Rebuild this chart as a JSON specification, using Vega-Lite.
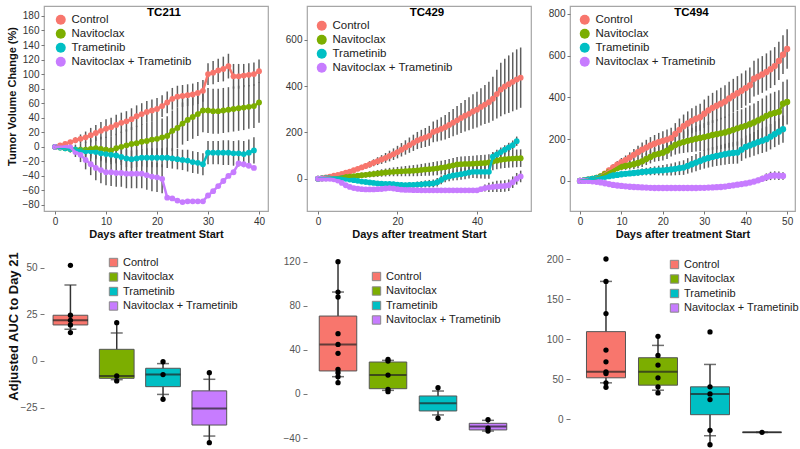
{
"$schema":"https://vega.github.io/schema/vega-lite/v6.json",
"padding":{"left":5,"top":5,"right":0,"bottom":0},
"background":"white",
"config":{
 "font":"Liberation Sans",
 "view":{"stroke":"#a6a6a6","strokeWidth":1.2},
 "axis":{"grid":false,"domain":false,"tickColor":"#777","tickSize":3,"labelColor":"#333","labelFontSize":10,"titleFontSize":11,"titleFontWeight":"bold","titleColor":"#111","labelPadding":2},
 "legend":{"labelFontSize":11.5,"labelColor":"#222","padding":0,"rowPadding":1,"labelOffset":5},
 "title":{"fontSize":11.5,"fontWeight":"bold","color":"#000"}
},
"datasets":{
"t1":[
{"d":0,"g":"C","v":0,"e":0},{"d":1,"g":"C","v":2,"e":1},{"d":2,"g":"C","v":4,"e":2},{"d":3,"g":"C","v":6.5,"e":3},{"d":4,"g":"C","v":9,"e":4},{"d":5,"g":"C","v":11,"e":6},{"d":6,"g":"C","v":13,"e":8},{"d":7,"g":"C","v":16,"e":10},{"d":8,"g":"C","v":19,"e":11},{"d":9,"g":"C","v":22,"e":12},{"d":10,"g":"C","v":25,"e":13},{"d":11,"g":"C","v":27,"e":13},{"d":12,"g":"C","v":30,"e":14},{"d":13,"g":"C","v":33,"e":14},{"d":14,"g":"C","v":35,"e":14},{"d":15,"g":"C","v":38,"e":15},{"d":16,"g":"C","v":42,"e":15},{"d":17,"g":"C","v":45,"e":15},{"d":18,"g":"C","v":48,"e":15},{"d":19,"g":"C","v":50,"e":15},{"d":20,"g":"C","v":52,"e":15},{"d":21,"g":"C","v":56,"e":15},{"d":22,"g":"C","v":61,"e":15},{"d":23,"g":"C","v":66,"e":15},{"d":24,"g":"C","v":69,"e":15},{"d":25,"g":"C","v":70,"e":15},{"d":26,"g":"C","v":71,"e":15},{"d":27,"g":"C","v":72,"e":15},{"d":28,"g":"C","v":74,"e":15},{"d":29,"g":"C","v":77,"e":15},{"d":30,"g":"C","v":100,"e":15},{"d":31,"g":"C","v":102,"e":16},{"d":32,"g":"C","v":105,"e":16},{"d":33,"g":"C","v":107,"e":17},{"d":34,"g":"C","v":111,"e":17},{"d":35,"g":"C","v":97,"e":17},{"d":36,"g":"C","v":97,"e":17},{"d":37,"g":"C","v":98,"e":16},{"d":38,"g":"C","v":99,"e":16},{"d":39,"g":"C","v":100,"e":16},{"d":40,"g":"C","v":104,"e":16},
{"d":0,"g":"N","v":0,"e":0},{"d":1,"g":"N","v":-1,"e":2},{"d":2,"g":"N","v":-2,"e":3},{"d":3,"g":"N","v":-3,"e":5},{"d":4,"g":"N","v":-4,"e":7},{"d":5,"g":"N","v":-4,"e":9},{"d":6,"g":"N","v":-4,"e":11},{"d":7,"g":"N","v":-3,"e":13},{"d":8,"g":"N","v":-2,"e":15},{"d":9,"g":"N","v":-3,"e":17},{"d":10,"g":"N","v":-4,"e":18},{"d":11,"g":"N","v":-5,"e":19},{"d":12,"g":"N","v":-2,"e":20},{"d":13,"g":"N","v":0,"e":21},{"d":14,"g":"N","v":2,"e":22},{"d":15,"g":"N","v":4,"e":23},{"d":16,"g":"N","v":5,"e":24},{"d":17,"g":"N","v":7,"e":24},{"d":18,"g":"N","v":8,"e":25},{"d":19,"g":"N","v":10,"e":25},{"d":20,"g":"N","v":11,"e":26},{"d":21,"g":"N","v":13,"e":26},{"d":22,"g":"N","v":15,"e":27},{"d":23,"g":"N","v":22,"e":28},{"d":24,"g":"N","v":26,"e":28},{"d":25,"g":"N","v":32,"e":29},{"d":26,"g":"N","v":37,"e":29},{"d":27,"g":"N","v":41,"e":30},{"d":28,"g":"N","v":45,"e":30},{"d":29,"g":"N","v":50,"e":30},{"d":30,"g":"N","v":50,"e":31},{"d":31,"g":"N","v":49,"e":31},{"d":32,"g":"N","v":49,"e":31},{"d":33,"g":"N","v":50,"e":31},{"d":34,"g":"N","v":51,"e":31},{"d":35,"g":"N","v":52,"e":31},{"d":36,"g":"N","v":53,"e":31},{"d":37,"g":"N","v":54,"e":31},{"d":38,"g":"N","v":55,"e":30},{"d":39,"g":"N","v":56,"e":30},{"d":40,"g":"N","v":61,"e":28},
{"d":0,"g":"T","v":0,"e":0},{"d":1,"g":"T","v":-1,"e":1},{"d":2,"g":"T","v":-2,"e":2},{"d":3,"g":"T","v":-3,"e":3},{"d":4,"g":"T","v":-4,"e":4},{"d":5,"g":"T","v":-5,"e":5},{"d":6,"g":"T","v":-6,"e":6},{"d":7,"g":"T","v":-6,"e":7},{"d":8,"g":"T","v":-7,"e":8},{"d":9,"g":"T","v":-9,"e":9},{"d":10,"g":"T","v":-10,"e":10},{"d":11,"g":"T","v":-11,"e":10},{"d":12,"g":"T","v":-12,"e":11},{"d":13,"g":"T","v":-14,"e":11},{"d":14,"g":"T","v":-16,"e":12},{"d":15,"g":"T","v":-17,"e":12},{"d":16,"g":"T","v":-16,"e":12},{"d":17,"g":"T","v":-15,"e":12},{"d":18,"g":"T","v":-15,"e":13},{"d":19,"g":"T","v":-15,"e":13},{"d":20,"g":"T","v":-15,"e":13},{"d":21,"g":"T","v":-15,"e":13},{"d":22,"g":"T","v":-15,"e":14},{"d":23,"g":"T","v":-16,"e":14},{"d":24,"g":"T","v":-17,"e":14},{"d":25,"g":"T","v":-18,"e":14},{"d":26,"g":"T","v":-19,"e":15},{"d":27,"g":"T","v":-21,"e":15},{"d":28,"g":"T","v":-22,"e":15},{"d":29,"g":"T","v":-24,"e":15},{"d":30,"g":"T","v":-8,"e":16},{"d":31,"g":"T","v":-8,"e":16},{"d":32,"g":"T","v":-8,"e":16},{"d":33,"g":"T","v":-8,"e":17},{"d":34,"g":"T","v":-8,"e":17},{"d":35,"g":"T","v":-9,"e":17},{"d":36,"g":"T","v":-9,"e":18},{"d":37,"g":"T","v":-10,"e":18},{"d":38,"g":"T","v":-8,"e":18},{"d":39,"g":"T","v":-5,"e":18},
{"d":0,"g":"NT","v":0,"e":0},{"d":1,"g":"NT","v":0,"e":1},{"d":2,"g":"NT","v":0,"e":2},{"d":3,"g":"NT","v":-1,"e":4},{"d":4,"g":"NT","v":-7,"e":7},{"d":5,"g":"NT","v":-11,"e":10},{"d":6,"g":"NT","v":-18,"e":13},{"d":7,"g":"NT","v":-24,"e":15},{"d":8,"g":"NT","v":-29,"e":17},{"d":9,"g":"NT","v":-32,"e":18},{"d":10,"g":"NT","v":-35,"e":18},{"d":11,"g":"NT","v":-35,"e":19},{"d":12,"g":"NT","v":-36,"e":19},{"d":13,"g":"NT","v":-36,"e":19},{"d":14,"g":"NT","v":-37,"e":20},{"d":15,"g":"NT","v":-37,"e":20},{"d":16,"g":"NT","v":-37,"e":20},{"d":17,"g":"NT","v":-37,"e":20},{"d":18,"g":"NT","v":-39,"e":20},{"d":19,"g":"NT","v":-41,"e":20},{"d":20,"g":"NT","v":-42,"e":20},{"d":21,"g":"NT","v":-44,"e":20},{"d":22,"g":"NT","v":-70,"e":1},{"d":23,"g":"NT","v":-71,"e":1},{"d":24,"g":"NT","v":-74,"e":1},{"d":25,"g":"NT","v":-76,"e":1},{"d":26,"g":"NT","v":-75,"e":1},{"d":27,"g":"NT","v":-75,"e":1},{"d":28,"g":"NT","v":-75,"e":1},{"d":29,"g":"NT","v":-75,"e":1},{"d":30,"g":"NT","v":-67,"e":1},{"d":31,"g":"NT","v":-61,"e":1},{"d":32,"g":"NT","v":-54,"e":1},{"d":33,"g":"NT","v":-47,"e":1},{"d":34,"g":"NT","v":-40,"e":1},{"d":35,"g":"NT","v":-35,"e":1},{"d":36,"g":"NT","v":-23,"e":1},{"d":37,"g":"NT","v":-24,"e":1},{"d":38,"g":"NT","v":-26,"e":1},{"d":39,"g":"NT","v":-29,"e":1}
],
"t2":[
{"d":0,"g":"C","v":0,"e":0},{"d":1,"g":"C","v":3,"e":1},{"d":2,"g":"C","v":6,"e":2},{"d":3,"g":"C","v":9,"e":3},{"d":4,"g":"C","v":13,"e":4},{"d":5,"g":"C","v":17,"e":5},{"d":6,"g":"C","v":21,"e":6},{"d":7,"g":"C","v":26,"e":7},{"d":8,"g":"C","v":31,"e":8},{"d":9,"g":"C","v":37,"e":9},{"d":10,"g":"C","v":43,"e":10},{"d":11,"g":"C","v":49,"e":11},{"d":12,"g":"C","v":55,"e":12},{"d":13,"g":"C","v":62,"e":14},{"d":14,"g":"C","v":69,"e":15},{"d":15,"g":"C","v":76,"e":17},{"d":16,"g":"C","v":83,"e":19},{"d":17,"g":"C","v":90,"e":21},{"d":18,"g":"C","v":98,"e":23},{"d":19,"g":"C","v":106,"e":25},{"d":20,"g":"C","v":115,"e":27},{"d":21,"g":"C","v":125,"e":29},{"d":22,"g":"C","v":135,"e":31},{"d":23,"g":"C","v":145,"e":33},{"d":24,"g":"C","v":155,"e":35},{"d":25,"g":"C","v":165,"e":37},{"d":26,"g":"C","v":172,"e":39},{"d":27,"g":"C","v":178,"e":41},{"d":28,"g":"C","v":185,"e":43},{"d":29,"g":"C","v":202,"e":45},{"d":30,"g":"C","v":208,"e":47},{"d":31,"g":"C","v":215,"e":50},{"d":32,"g":"C","v":222,"e":53},{"d":33,"g":"C","v":232,"e":56},{"d":34,"g":"C","v":242,"e":59},{"d":35,"g":"C","v":252,"e":62},{"d":36,"g":"C","v":262,"e":65},{"d":37,"g":"C","v":272,"e":68},{"d":38,"g":"C","v":280,"e":71},{"d":39,"g":"C","v":290,"e":74},{"d":40,"g":"C","v":298,"e":77},{"d":41,"g":"C","v":310,"e":80},{"d":42,"g":"C","v":320,"e":84},{"d":43,"g":"C","v":330,"e":88},{"d":44,"g":"C","v":345,"e":95},{"d":45,"g":"C","v":365,"e":105},{"d":46,"g":"C","v":385,"e":115},{"d":47,"g":"C","v":398,"e":120},{"d":48,"g":"C","v":408,"e":124},{"d":49,"g":"C","v":418,"e":127},{"d":50,"g":"C","v":428,"e":130},{"d":51,"g":"C","v":436,"e":130},
{"d":0,"g":"N","v":0,"e":0},{"d":1,"g":"N","v":1,"e":1},{"d":2,"g":"N","v":2,"e":2},{"d":3,"g":"N","v":3,"e":3},{"d":4,"g":"N","v":4,"e":4},{"d":5,"g":"N","v":5,"e":5},{"d":6,"g":"N","v":6,"e":6},{"d":7,"g":"N","v":8,"e":7},{"d":8,"g":"N","v":9,"e":8},{"d":9,"g":"N","v":11,"e":9},{"d":10,"g":"N","v":13,"e":10},{"d":11,"g":"N","v":15,"e":11},{"d":12,"g":"N","v":17,"e":12},{"d":13,"g":"N","v":19,"e":13},{"d":14,"g":"N","v":21,"e":14},{"d":15,"g":"N","v":23,"e":15},{"d":16,"g":"N","v":25,"e":16},{"d":17,"g":"N","v":27,"e":17},{"d":18,"g":"N","v":29,"e":18},{"d":19,"g":"N","v":30,"e":19},{"d":20,"g":"N","v":31,"e":20},{"d":21,"g":"N","v":32,"e":21},{"d":22,"g":"N","v":33,"e":22},{"d":23,"g":"N","v":34,"e":23},{"d":24,"g":"N","v":35,"e":24},{"d":25,"g":"N","v":36,"e":25},{"d":26,"g":"N","v":38,"e":26},{"d":27,"g":"N","v":40,"e":27},{"d":28,"g":"N","v":41,"e":28},{"d":29,"g":"N","v":43,"e":29},{"d":30,"g":"N","v":45,"e":30},{"d":31,"g":"N","v":48,"e":30},{"d":32,"g":"N","v":50,"e":31},{"d":33,"g":"N","v":54,"e":31},{"d":34,"g":"N","v":58,"e":32},{"d":35,"g":"N","v":62,"e":32},{"d":36,"g":"N","v":63,"e":33},{"d":37,"g":"N","v":64,"e":33},{"d":38,"g":"N","v":64,"e":34},{"d":39,"g":"N","v":65,"e":34},{"d":40,"g":"N","v":66,"e":35},{"d":41,"g":"N","v":67,"e":35},{"d":42,"g":"N","v":68,"e":36},{"d":43,"g":"N","v":70,"e":36},{"d":44,"g":"N","v":74,"e":37},{"d":45,"g":"N","v":78,"e":37},{"d":46,"g":"N","v":82,"e":38},{"d":47,"g":"N","v":84,"e":38},{"d":48,"g":"N","v":86,"e":38},{"d":49,"g":"N","v":87,"e":38},{"d":50,"g":"N","v":88,"e":38},{"d":51,"g":"N","v":89,"e":38},
{"d":0,"g":"T","v":0,"e":0},{"d":1,"g":"T","v":2,"e":1},{"d":2,"g":"T","v":3,"e":1},{"d":3,"g":"T","v":4,"e":2},{"d":4,"g":"T","v":5,"e":2},{"d":5,"g":"T","v":4,"e":3},{"d":6,"g":"T","v":2,"e":3},{"d":7,"g":"T","v":0,"e":4},{"d":8,"g":"T","v":-3,"e":4},{"d":9,"g":"T","v":-6,"e":5},{"d":10,"g":"T","v":-9,"e":5},{"d":11,"g":"T","v":-12,"e":6},{"d":12,"g":"T","v":-14,"e":6},{"d":13,"g":"T","v":-16,"e":7},{"d":14,"g":"T","v":-18,"e":7},{"d":15,"g":"T","v":-20,"e":8},{"d":16,"g":"T","v":-21,"e":8},{"d":17,"g":"T","v":-22,"e":9},{"d":18,"g":"T","v":-22,"e":9},{"d":19,"g":"T","v":-23,"e":10},{"d":20,"g":"T","v":-25,"e":10},{"d":21,"g":"T","v":-27,"e":11},{"d":22,"g":"T","v":-28,"e":11},{"d":23,"g":"T","v":-27,"e":12},{"d":24,"g":"T","v":-26,"e":12},{"d":25,"g":"T","v":-25,"e":13},{"d":26,"g":"T","v":-24,"e":14},{"d":27,"g":"T","v":-22,"e":15},{"d":28,"g":"T","v":-21,"e":16},{"d":29,"g":"T","v":-20,"e":17},{"d":30,"g":"T","v":-15,"e":18},{"d":31,"g":"T","v":-5,"e":19},{"d":32,"g":"T","v":5,"e":20},{"d":33,"g":"T","v":10,"e":21},{"d":34,"g":"T","v":14,"e":22},{"d":35,"g":"T","v":17,"e":23},{"d":36,"g":"T","v":20,"e":24},{"d":37,"g":"T","v":23,"e":25},{"d":38,"g":"T","v":27,"e":26},{"d":39,"g":"T","v":30,"e":27},{"d":40,"g":"T","v":30,"e":28},{"d":41,"g":"T","v":30,"e":29},{"d":42,"g":"T","v":30,"e":30},{"d":43,"g":"T","v":30,"e":30},{"d":44,"g":"T","v":95,"e":20},{"d":45,"g":"T","v":105,"e":20},{"d":46,"g":"T","v":115,"e":20},{"d":47,"g":"T","v":125,"e":20},{"d":48,"g":"T","v":135,"e":20},{"d":49,"g":"T","v":145,"e":20},{"d":50,"g":"T","v":162,"e":20},
{"d":0,"g":"NT","v":0,"e":0},{"d":1,"g":"NT","v":0,"e":1},{"d":2,"g":"NT","v":0,"e":1},{"d":3,"g":"NT","v":0,"e":2},{"d":4,"g":"NT","v":-2,"e":2},{"d":5,"g":"NT","v":-8,"e":3},{"d":6,"g":"NT","v":-18,"e":3},{"d":7,"g":"NT","v":-28,"e":3},{"d":8,"g":"NT","v":-35,"e":3},{"d":9,"g":"NT","v":-40,"e":3},{"d":10,"g":"NT","v":-43,"e":3},{"d":11,"g":"NT","v":-45,"e":3},{"d":12,"g":"NT","v":-46,"e":3},{"d":13,"g":"NT","v":-46,"e":3},{"d":14,"g":"NT","v":-46,"e":3},{"d":15,"g":"NT","v":-45,"e":3},{"d":16,"g":"NT","v":-44,"e":3},{"d":17,"g":"NT","v":-42,"e":3},{"d":18,"g":"NT","v":-40,"e":3},{"d":19,"g":"NT","v":-42,"e":3},{"d":20,"g":"NT","v":-45,"e":3},{"d":21,"g":"NT","v":-47,"e":3},{"d":22,"g":"NT","v":-48,"e":3},{"d":23,"g":"NT","v":-48,"e":3},{"d":24,"g":"NT","v":-49,"e":3},{"d":25,"g":"NT","v":-49,"e":3},{"d":26,"g":"NT","v":-50,"e":3},{"d":27,"g":"NT","v":-50,"e":3},{"d":28,"g":"NT","v":-50,"e":3},{"d":29,"g":"NT","v":-50,"e":3},{"d":30,"g":"NT","v":-50,"e":3},{"d":31,"g":"NT","v":-50,"e":3},{"d":32,"g":"NT","v":-50,"e":3},{"d":33,"g":"NT","v":-50,"e":3},{"d":34,"g":"NT","v":-50,"e":3},{"d":35,"g":"NT","v":-50,"e":3},{"d":36,"g":"NT","v":-50,"e":3},{"d":37,"g":"NT","v":-50,"e":3},{"d":38,"g":"NT","v":-50,"e":3},{"d":39,"g":"NT","v":-50,"e":3},{"d":40,"g":"NT","v":-50,"e":3},{"d":41,"g":"NT","v":-45,"e":10},{"d":42,"g":"NT","v":-40,"e":15},{"d":43,"g":"NT","v":-37,"e":20},{"d":44,"g":"NT","v":-35,"e":22},{"d":45,"g":"NT","v":-33,"e":24},{"d":46,"g":"NT","v":-32,"e":25},{"d":47,"g":"NT","v":-31,"e":25},{"d":48,"g":"NT","v":-28,"e":25},{"d":49,"g":"NT","v":-15,"e":25},{"d":50,"g":"NT","v":0,"e":25},{"d":51,"g":"NT","v":10,"e":25}
],
"t3":[
{"d":0,"g":"C","v":0,"e":0},{"d":1,"g":"C","v":3,"e":2},{"d":2,"g":"C","v":6,"e":3},{"d":3,"g":"C","v":10,"e":5},{"d":4,"g":"C","v":15,"e":7},{"d":5,"g":"C","v":22,"e":9},{"d":6,"g":"C","v":35,"e":11},{"d":7,"g":"C","v":50,"e":13},{"d":8,"g":"C","v":65,"e":15},{"d":9,"g":"C","v":78,"e":17},{"d":10,"g":"C","v":90,"e":20},{"d":11,"g":"C","v":100,"e":22},{"d":12,"g":"C","v":112,"e":25},{"d":13,"g":"C","v":125,"e":28},{"d":14,"g":"C","v":138,"e":31},{"d":15,"g":"C","v":150,"e":34},{"d":16,"g":"C","v":160,"e":37},{"d":17,"g":"C","v":170,"e":40},{"d":18,"g":"C","v":178,"e":42},{"d":19,"g":"C","v":186,"e":44},{"d":20,"g":"C","v":192,"e":46},{"d":21,"g":"C","v":198,"e":48},{"d":22,"g":"C","v":205,"e":50},{"d":23,"g":"C","v":225,"e":52},{"d":24,"g":"C","v":245,"e":54},{"d":25,"g":"C","v":262,"e":56},{"d":26,"g":"C","v":275,"e":58},{"d":27,"g":"C","v":288,"e":60},{"d":28,"g":"C","v":298,"e":62},{"d":29,"g":"C","v":305,"e":65},{"d":30,"g":"C","v":322,"e":68},{"d":31,"g":"C","v":338,"e":70},{"d":32,"g":"C","v":350,"e":72},{"d":33,"g":"C","v":360,"e":74},{"d":34,"g":"C","v":370,"e":76},{"d":35,"g":"C","v":380,"e":78},{"d":36,"g":"C","v":395,"e":80},{"d":37,"g":"C","v":408,"e":81},{"d":38,"g":"C","v":420,"e":82},{"d":39,"g":"C","v":432,"e":83},{"d":40,"g":"C","v":445,"e":84},{"d":41,"g":"C","v":458,"e":85},{"d":42,"g":"C","v":490,"e":86},{"d":43,"g":"C","v":500,"e":87},{"d":44,"g":"C","v":510,"e":88},{"d":45,"g":"C","v":522,"e":89},{"d":46,"g":"C","v":535,"e":90},{"d":47,"g":"C","v":550,"e":91},{"d":48,"g":"C","v":575,"e":92},{"d":49,"g":"C","v":605,"e":93},{"d":50,"g":"C","v":632,"e":95},
{"d":0,"g":"N","v":0,"e":0},{"d":1,"g":"N","v":3,"e":2},{"d":2,"g":"N","v":6,"e":3},{"d":3,"g":"N","v":10,"e":4},{"d":4,"g":"N","v":14,"e":5},{"d":5,"g":"N","v":22,"e":7},{"d":6,"g":"N","v":32,"e":9},{"d":7,"g":"N","v":42,"e":11},{"d":8,"g":"N","v":52,"e":13},{"d":9,"g":"N","v":62,"e":15},{"d":10,"g":"N","v":68,"e":17},{"d":11,"g":"N","v":72,"e":19},{"d":12,"g":"N","v":76,"e":21},{"d":13,"g":"N","v":80,"e":23},{"d":14,"g":"N","v":86,"e":25},{"d":15,"g":"N","v":94,"e":27},{"d":16,"g":"N","v":105,"e":29},{"d":17,"g":"N","v":115,"e":31},{"d":18,"g":"N","v":125,"e":33},{"d":19,"g":"N","v":130,"e":35},{"d":20,"g":"N","v":135,"e":37},{"d":21,"g":"N","v":145,"e":40},{"d":22,"g":"N","v":160,"e":43},{"d":23,"g":"N","v":172,"e":46},{"d":24,"g":"N","v":180,"e":49},{"d":25,"g":"N","v":186,"e":52},{"d":26,"g":"N","v":192,"e":55},{"d":27,"g":"N","v":197,"e":58},{"d":28,"g":"N","v":202,"e":61},{"d":29,"g":"N","v":206,"e":64},{"d":30,"g":"N","v":210,"e":67},{"d":31,"g":"N","v":215,"e":69},{"d":32,"g":"N","v":220,"e":71},{"d":33,"g":"N","v":224,"e":73},{"d":34,"g":"N","v":228,"e":75},{"d":35,"g":"N","v":232,"e":77},{"d":36,"g":"N","v":238,"e":79},{"d":37,"g":"N","v":245,"e":81},{"d":38,"g":"N","v":252,"e":83},{"d":39,"g":"N","v":258,"e":85},{"d":40,"g":"N","v":264,"e":87},{"d":41,"g":"N","v":272,"e":89},{"d":42,"g":"N","v":280,"e":91},{"d":43,"g":"N","v":290,"e":93},{"d":44,"g":"N","v":300,"e":95},{"d":45,"g":"N","v":312,"e":97},{"d":46,"g":"N","v":320,"e":99},{"d":47,"g":"N","v":326,"e":101},{"d":48,"g":"N","v":331,"e":103},{"d":49,"g":"N","v":370,"e":105},{"d":50,"g":"N","v":378,"e":108},
{"d":0,"g":"T","v":0,"e":0},{"d":1,"g":"T","v":3,"e":1},{"d":2,"g":"T","v":6,"e":2},{"d":3,"g":"T","v":10,"e":3},{"d":4,"g":"T","v":13,"e":4},{"d":5,"g":"T","v":17,"e":5},{"d":6,"g":"T","v":20,"e":6},{"d":7,"g":"T","v":23,"e":7},{"d":8,"g":"T","v":26,"e":8},{"d":9,"g":"T","v":29,"e":9},{"d":10,"g":"T","v":32,"e":10},{"d":11,"g":"T","v":34,"e":11},{"d":12,"g":"T","v":36,"e":12},{"d":13,"g":"T","v":38,"e":14},{"d":14,"g":"T","v":40,"e":15},{"d":15,"g":"T","v":43,"e":17},{"d":16,"g":"T","v":45,"e":18},{"d":17,"g":"T","v":47,"e":20},{"d":18,"g":"T","v":49,"e":21},{"d":19,"g":"T","v":50,"e":23},{"d":20,"g":"T","v":51,"e":25},{"d":21,"g":"T","v":53,"e":27},{"d":22,"g":"T","v":55,"e":29},{"d":23,"g":"T","v":58,"e":31},{"d":24,"g":"T","v":61,"e":33},{"d":25,"g":"T","v":64,"e":35},{"d":26,"g":"T","v":72,"e":37},{"d":27,"g":"T","v":80,"e":39},{"d":28,"g":"T","v":88,"e":41},{"d":29,"g":"T","v":96,"e":43},{"d":30,"g":"T","v":104,"e":45},{"d":31,"g":"T","v":110,"e":46},{"d":32,"g":"T","v":115,"e":47},{"d":33,"g":"T","v":120,"e":48},{"d":34,"g":"T","v":124,"e":49},{"d":35,"g":"T","v":128,"e":50},{"d":36,"g":"T","v":132,"e":51},{"d":37,"g":"T","v":134,"e":52},{"d":38,"g":"T","v":136,"e":53},{"d":39,"g":"T","v":150,"e":54},{"d":40,"g":"T","v":163,"e":55},{"d":41,"g":"T","v":170,"e":56},{"d":42,"g":"T","v":178,"e":57},{"d":43,"g":"T","v":186,"e":58},{"d":44,"g":"T","v":193,"e":59},{"d":45,"g":"T","v":200,"e":60},{"d":46,"g":"T","v":212,"e":61},{"d":47,"g":"T","v":224,"e":62},{"d":48,"g":"T","v":236,"e":63},{"d":49,"g":"T","v":248,"e":65},
{"d":0,"g":"NT","v":0,"e":0},{"d":1,"g":"NT","v":0,"e":1},{"d":2,"g":"NT","v":0,"e":1},{"d":3,"g":"NT","v":-2,"e":2},{"d":4,"g":"NT","v":-4,"e":2},{"d":5,"g":"NT","v":-7,"e":3},{"d":6,"g":"NT","v":-11,"e":3},{"d":7,"g":"NT","v":-15,"e":3},{"d":8,"g":"NT","v":-19,"e":3},{"d":9,"g":"NT","v":-22,"e":3},{"d":10,"g":"NT","v":-24,"e":3},{"d":11,"g":"NT","v":-26,"e":3},{"d":12,"g":"NT","v":-28,"e":3},{"d":13,"g":"NT","v":-29,"e":3},{"d":14,"g":"NT","v":-30,"e":3},{"d":15,"g":"NT","v":-31,"e":3},{"d":16,"g":"NT","v":-32,"e":3},{"d":17,"g":"NT","v":-33,"e":3},{"d":18,"g":"NT","v":-34,"e":3},{"d":19,"g":"NT","v":-34,"e":3},{"d":20,"g":"NT","v":-34,"e":3},{"d":21,"g":"NT","v":-34,"e":3},{"d":22,"g":"NT","v":-34,"e":3},{"d":23,"g":"NT","v":-34,"e":3},{"d":24,"g":"NT","v":-34,"e":3},{"d":25,"g":"NT","v":-34,"e":3},{"d":26,"g":"NT","v":-34,"e":3},{"d":27,"g":"NT","v":-34,"e":3},{"d":28,"g":"NT","v":-34,"e":3},{"d":29,"g":"NT","v":-33,"e":3},{"d":30,"g":"NT","v":-33,"e":3},{"d":31,"g":"NT","v":-32,"e":3},{"d":32,"g":"NT","v":-31,"e":3},{"d":33,"g":"NT","v":-30,"e":3},{"d":34,"g":"NT","v":-29,"e":3},{"d":35,"g":"NT","v":-27,"e":3},{"d":36,"g":"NT","v":-24,"e":3},{"d":37,"g":"NT","v":-21,"e":3},{"d":38,"g":"NT","v":-18,"e":3},{"d":39,"g":"NT","v":-15,"e":3},{"d":40,"g":"NT","v":-12,"e":5},{"d":41,"g":"NT","v":-8,"e":8},{"d":42,"g":"NT","v":-3,"e":10},{"d":43,"g":"NT","v":3,"e":12},{"d":44,"g":"NT","v":10,"e":15},{"d":45,"g":"NT","v":18,"e":18},{"d":46,"g":"NT","v":24,"e":20},{"d":47,"g":"NT","v":26,"e":20},{"d":48,"g":"NT","v":25,"e":20},{"d":49,"g":"NT","v":24,"e":18}
],
"b1s":[
{"g":"C","lo":15.2,"clo":17,"q1":19.3,"md":21.8,"q3":24.5,"chi":40.7,"hi":40.7},
{"g":"N","lo":-10.7,"clo":-10,"q1":-9.3,"md":-8,"q3":6.25,"chi":15,"hi":20.5},
{"g":"T","lo":-20.5,"clo":-17.9,"q1":-13.75,"md":-7.3,"q3":-3.9,"chi":-1.4,"hi":-0.4},
{"g":"NT","lo":-43.75,"clo":-40.2,"q1":-34.3,"md":-25.4,"q3":-16,"chi":-9.8,"hi":-6.25}
],
"b1p":[
{"g":"C","v":51.25},{"g":"C","v":24.5},{"g":"C","v":21.8},{"g":"C","v":19.3},{"g":"C","v":15.2},
{"g":"N","v":20.5},{"g":"N","v":-8},{"g":"N","v":-10.7},
{"g":"T","v":-0.4},{"g":"T","v":-7.3},{"g":"T","v":-20.5},
{"g":"NT","v":-6.25},{"g":"NT","v":-43.75}
],
"b2s":[
{"g":"C","lo":10.3,"clo":15.7,"q1":20.9,"md":45,"q3":70.7,"chi":92.5,"hi":120},
{"g":"N","lo":2.1,"clo":3.3,"q1":4.8,"md":17.2,"q3":29,"chi":30.5,"hi":31.4},
{"g":"T","lo":-22,"clo":-19,"q1":-15.4,"md":-8.5,"q3":-1.8,"chi":2.7,"hi":5.7},
{"g":"NT","lo":-33.6,"clo":-33.6,"q1":-32.6,"md":-29.6,"q3":-26.6,"chi":-23.9,"hi":-23.3}
],
"b2p":[
{"g":"C","v":120},{"g":"C","v":92.5},{"g":"C","v":88},{"g":"C","v":54.7},{"g":"C","v":45},{"g":"C","v":36.9},{"g":"C","v":22.4},{"g":"C","v":19.3},{"g":"C","v":15.7},{"g":"C","v":10.3},
{"g":"N","v":31.4},{"g":"N","v":29.9},{"g":"N","v":17.2},{"g":"N","v":4.2},{"g":"N","v":2.1},
{"g":"T","v":5.7},{"g":"T","v":-22},
{"g":"NT","v":-23.3},{"g":"NT","v":-31.1},{"g":"NT","v":-33.6}
],
"b3s":[
{"g":"C","lo":39.7,"clo":45.2,"q1":51.5,"md":59,"q3":109.2,"chi":172,"hi":172},
{"g":"N","lo":32.6,"clo":36,"q1":42.3,"md":59,"q3":76.6,"chi":92,"hi":103.3},
{"g":"T","lo":-32.2,"clo":-20.9,"q1":5.4,"md":31.4,"q3":40.2,"chi":68.2,"hi":68.2},
{"g":"NT","lo":-16.7,"clo":-16.7,"q1":-16.7,"md":-16.7,"q3":-16.7,"chi":-16.7,"hi":-16.7}
],
"b3p":[
{"g":"C","v":200},{"g":"C","v":172},{"g":"C","v":131.8},{"g":"C","v":86.2},{"g":"C","v":71.5},{"g":"C","v":59},{"g":"C","v":56.9},{"g":"C","v":45.2},{"g":"C","v":39.7},
{"g":"N","v":103.3},{"g":"N","v":79.5},{"g":"N","v":67.4},{"g":"N","v":51.5},{"g":"N","v":40.2},{"g":"N","v":32.6},
{"g":"T","v":108.8},{"g":"T","v":40.2},{"g":"T","v":31.4},{"g":"T","v":24.3},{"g":"T","v":-14.2},{"g":"T","v":-32.2},
{"g":"NT","v":-16.7}
]
},
"bounds":"flush",
"columns":3,
"spacing":{"row":43,"column":39},
"resolve":{"scale":{"color":"independent"},"legend":{"color":"independent"}},
"concat":[
 {"width":224,"height":205,"data":{"name":"t1"},
  "title":{"text":"TC211","anchor":"middle","frame":"group","baseline":"middle","offset":0,"dy":18,"dx":8},
  "encoding":{
   "x":{"field":"d","type":"quantitative","scale":{"domain":[-2.16,41.76],"nice":false,"zero":false},"axis":{"values":[0,10,20,30,40],"title":"Days after treatment Start","titlePadding":2}},
   "y":{"field":"v","type":"quantitative","scale":{"domain":[-88.3,193.7],"nice":false,"zero":false},"axis":{"values":[-80,-60,-40,-20,0,20,40,60,80,100,120,140,160,180],"title":"Tumor Volume Change (%)","titleY":90,"titlePadding":5}},
   "color":{"field":"g","type":"nominal","scale":{"domain":["C","N","T","NT"],"range":["#F8766D","#7CAE00","#00BFC4","#C77CFF"]},"legend":{"title":null,"orient":"none","legendX":11,"legendY":8,"symbolType":"circle","symbolSize":100,"symbolStrokeWidth":0,"labelExpr":"datum.label=='C'?'Control':datum.label=='N'?'Navitoclax':datum.label=='T'?'Trametinib':'Navitoclax + Trametinib'"}}
  },
  "layer":[
   {"mark":{"type":"errorbar","color":"#5e5e5e","thickness":1.5},"encoding":{"yError":{"field":"e"},"color":{"value":"#5e5e5e"}}},
   {"mark":{"type":"circle","size":34,"opacity":1}},
   {"mark":{"type":"line","strokeWidth":2.5}}
  ]},
 {"width":224,"height":205,"data":{"name":"t2"},
  "title":{"text":"TC429","anchor":"middle","frame":"group","baseline":"middle","offset":0,"dy":18,"dx":8},
  "encoding":{
   "x":{"field":"d","type":"quantitative","scale":{"domain":[-2.77,53.6],"nice":false,"zero":false},"axis":{"values":[0,20,40],"title":"Days after treatment Start","titlePadding":2}},
   "y":{"field":"v","type":"quantitative","scale":{"domain":[-139,745],"nice":false,"zero":false},"axis":{"values":[0,200,400,600],"title":null}},
   "color":{"field":"g","type":"nominal","scale":{"domain":["C","N","T","NT"],"range":["#F8766D","#7CAE00","#00BFC4","#C77CFF"]},"legend":{"title":null,"orient":"none","legendX":9,"legendY":14,"symbolType":"circle","symbolSize":100,"symbolStrokeWidth":0,"labelExpr":"datum.label=='C'?'Control':datum.label=='N'?'Navitoclax':datum.label=='T'?'Trametinib':'Navitoclax + Trametinib'"}}
  },
  "layer":[
   {"mark":{"type":"errorbar","color":"#5e5e5e","thickness":1.5},"encoding":{"yError":{"field":"e"},"color":{"value":"#5e5e5e"}}},
   {"mark":{"type":"circle","size":34,"opacity":1}},
   {"mark":{"type":"line","strokeWidth":2.5}}
  ]},
 {"width":225,"height":205,"data":{"name":"t3"},
  "title":{"text":"TC494","anchor":"middle","frame":"group","baseline":"middle","offset":0,"dy":18,"dx":9},
  "encoding":{
   "x":{"field":"d","type":"quantitative","scale":{"domain":[-2.42,51.9],"nice":false,"zero":false},"axis":{"values":[0,10,20,30,40,50],"title":"Days after treatment Start","titlePadding":2}},
   "y":{"field":"v","type":"quantitative","scale":{"domain":[-144,838],"nice":false,"zero":false},"axis":{"values":[0,200,400,600,800],"title":null}},
   "color":{"field":"g","type":"nominal","scale":{"domain":["C","N","T","NT"],"range":["#F8766D","#7CAE00","#00BFC4","#C77CFF"]},"legend":{"title":null,"orient":"none","legendX":9,"legendY":8,"symbolType":"circle","symbolSize":100,"symbolStrokeWidth":0,"labelExpr":"datum.label=='C'?'Control':datum.label=='N'?'Navitoclax':datum.label=='T'?'Trametinib':'Navitoclax + Trametinib'"}}
  },
  "layer":[
   {"mark":{"type":"errorbar","color":"#5e5e5e","thickness":1.5},"encoding":{"yError":{"field":"e"},"color":{"value":"#5e5e5e"}}},
   {"mark":{"type":"circle","size":40,"opacity":1}},
   {"mark":{"type":"line","strokeWidth":2.5}}
  ]},
 {"width":224,"height":194,"view":{"stroke":null},
  "encoding":{"x":{"field":"g","type":"nominal","scale":{"domain":["C","N","T","NT"],"paddingInner":0.25,"paddingOuter":0.544,"align":0.18},"axis":null}},
  "layer":[
   {"data":{"name":"b1s"},"mark":{"type":"rule","color":"#333","strokeWidth":1.5},"encoding":{"y":{"field":"lo","type":"quantitative","scale":{"domain":[-46.6,57.3],"nice":false,"zero":false},"axis":{"values":[-25,0,25,50],"title":"Adjusted AUC to Day 21","titleY":72,"titleFontSize":13,"tickSize":4,"labelPadding":3,"labelColor":"#555","labelFontSize":10,"titlePadding":0}},"y2":{"field":"hi"}}},
   {"data":{"name":"b1s"},"mark":{"type":"tick","color":"#333","thickness":1.5,"size":12},"encoding":{"y":{"field":"chi","type":"quantitative"}}},
   {"data":{"name":"b1s"},"mark":{"type":"tick","color":"#333","thickness":1.5,"size":12},"encoding":{"y":{"field":"clo","type":"quantitative"}}},
   {"data":{"name":"b1s"},"mark":{"type":"bar","stroke":"#555","strokeWidth":1},"encoding":{"y":{"field":"q1","type":"quantitative"},"y2":{"field":"q3"},"color":{"field":"g","type":"nominal","scale":{"domain":["C","N","T","NT"],"range":["#F8766D","#7CAE00","#00BFC4","#C77CFF"]},"legend":{"title":null,"orient":"none","legendX":64,"legendY":3,"symbolType":"square","symbolSize":70,"symbolStrokeColor":"#888","symbolStrokeWidth":1,"rowPadding":1.5,"labelOffset":4,"labelFontSize":11,"labelExpr":"datum.label=='C'?'Control':datum.label=='N'?'Navitoclax':datum.label=='T'?'Trametinib':'Navitoclax + Trametinib'"}}}},
   {"data":{"name":"b1s"},"mark":{"type":"tick","color":"#222","thickness":2,"size":35},"encoding":{"y":{"field":"md","type":"quantitative"}}},
   {"data":{"name":"b1p"},"mark":{"type":"circle","color":"#000","size":28,"opacity":1},"encoding":{"y":{"field":"v","type":"quantitative"}}}
  ]},
 {"width":224,"height":194,"view":{"stroke":null},
  "encoding":{"x":{"field":"g","type":"nominal","scale":{"domain":["C","N","T","NT"],"paddingInner":0.25,"paddingOuter":0.365,"align":0.336},"axis":null}},
  "layer":[
   {"data":{"name":"b2s"},"mark":{"type":"rule","color":"#333","strokeWidth":1.5},"encoding":{"y":{"field":"lo","type":"quantitative","scale":{"domain":[-49,127],"nice":false,"zero":false},"axis":{"values":[-40,0,40,80,120],"title":null,"tickSize":4,"labelPadding":3,"labelColor":"#555","labelFontSize":10}},"y2":{"field":"hi"}}},
   {"data":{"name":"b2s"},"mark":{"type":"tick","color":"#333","thickness":1.5,"size":12},"encoding":{"y":{"field":"chi","type":"quantitative"}}},
   {"data":{"name":"b2s"},"mark":{"type":"tick","color":"#333","thickness":1.5,"size":12},"encoding":{"y":{"field":"clo","type":"quantitative"}}},
   {"data":{"name":"b2s"},"mark":{"type":"bar","stroke":"#555","strokeWidth":1},"encoding":{"y":{"field":"q1","type":"quantitative"},"y2":{"field":"q3"},"color":{"field":"g","type":"nominal","scale":{"domain":["C","N","T","NT"],"range":["#F8766D","#7CAE00","#00BFC4","#C77CFF"]},"legend":{"title":null,"orient":"none","legendX":64,"legendY":17,"symbolType":"square","symbolSize":70,"symbolStrokeColor":"#888","symbolStrokeWidth":1,"rowPadding":1.5,"labelOffset":4,"labelFontSize":11,"labelExpr":"datum.label=='C'?'Control':datum.label=='N'?'Navitoclax':datum.label=='T'?'Trametinib':'Navitoclax + Trametinib'"}}}},
   {"data":{"name":"b2s"},"mark":{"type":"tick","color":"#222","thickness":2,"size":37},"encoding":{"y":{"field":"md","type":"quantitative"}}},
   {"data":{"name":"b2p"},"mark":{"type":"circle","color":"#000","size":28,"opacity":1},"encoding":{"y":{"field":"v","type":"quantitative"}}}
  ]},
 {"width":225,"height":194,"view":{"stroke":null},
  "encoding":{"x":{"field":"g","type":"nominal","scale":{"domain":["C","N","T","NT"],"paddingInner":0.25,"paddingOuter":0.288,"align":0.55},"axis":null}},
  "layer":[
   {"data":{"name":"b3s"},"mark":{"type":"rule","color":"#333","strokeWidth":1.5},"encoding":{"y":{"field":"lo","type":"quantitative","scale":{"domain":[-36.25,206.25],"nice":false,"zero":false},"axis":{"values":[0,50,100,150,200],"title":null,"tickSize":4,"labelPadding":3,"labelColor":"#555","labelFontSize":10}},"y2":{"field":"hi"}}},
   {"data":{"name":"b3s"},"mark":{"type":"tick","color":"#333","thickness":1.5,"size":12},"encoding":{"y":{"field":"chi","type":"quantitative"}}},
   {"data":{"name":"b3s"},"mark":{"type":"tick","color":"#333","thickness":1.5,"size":12},"encoding":{"y":{"field":"clo","type":"quantitative"}}},
   {"data":{"name":"b3s"},"mark":{"type":"bar","stroke":"#555","strokeWidth":1},"encoding":{"y":{"field":"q1","type":"quantitative"},"y2":{"field":"q3"},"color":{"field":"g","type":"nominal","scale":{"domain":["C","N","T","NT"],"range":["#F8766D","#7CAE00","#00BFC4","#C77CFF"]},"legend":{"title":null,"orient":"none","legendX":99,"legendY":5,"symbolType":"square","symbolSize":70,"symbolStrokeColor":"#888","symbolStrokeWidth":1,"rowPadding":1.5,"labelOffset":4,"labelFontSize":11,"labelExpr":"datum.label=='C'?'Control':datum.label=='N'?'Navitoclax':datum.label=='T'?'Trametinib':'Navitoclax + Trametinib'"}}}},
   {"data":{"name":"b3s"},"mark":{"type":"tick","color":"#222","thickness":2,"size":39},"encoding":{"y":{"field":"md","type":"quantitative"}}},
   {"data":{"name":"b3p"},"mark":{"type":"circle","color":"#000","size":28,"opacity":1},"encoding":{"y":{"field":"v","type":"quantitative"}}}
  ]}
]
}
